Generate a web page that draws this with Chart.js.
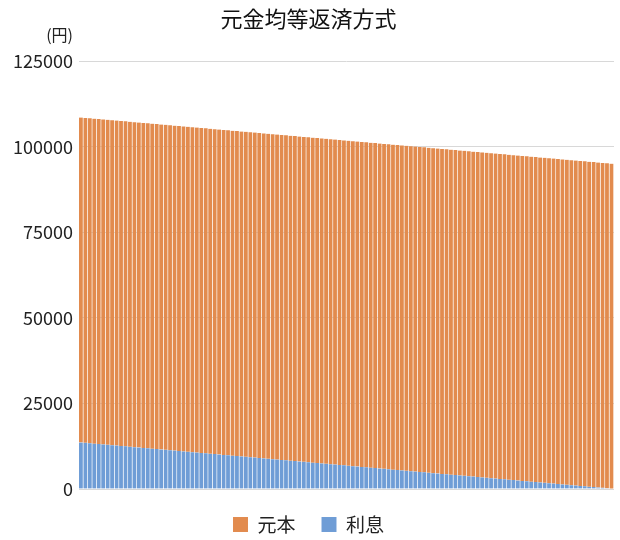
<!DOCTYPE html>
<html>
<head>
<meta charset="utf-8">
<script src="https://cdn.jsdelivr.net/npm/chart.js@4"></script>
<style>
  html, body { margin: 0; padding: 0; background: #fff; }
  #wrap { width: 620px; height: 540px; }
</style>
</head>
<body>
<div id="wrap"><canvas id="chart" width="620" height="540"></canvas></div>
<script>
// 元金均等返済: monthly payments
const TITLE = "元金均等返済方式";
const UNIT = "(円)";
const SERIES_NAMES = ["利息", "元本"];
const Y_TICKS = [0, 25000, 50000, 75000, 100000, 125000];

const interest = [
    13600, 13490, 13370, 13260, 13150, 13030, 12920, 12810, 12690, 12580,
    12470, 12350, 12240, 12130, 12010, 11900, 11790, 11670, 11560, 11450,
    11330, 11220, 11110, 10990, 10880, 10770, 10650, 10540, 10430, 10310,
    10200, 10090, 9970, 9860, 9740, 9630, 9520, 9400, 9290, 9180,
    9060, 8950, 8840, 8720, 8610, 8500, 8380, 8270, 8160, 8040,
    7930, 7820, 7700, 7590, 7480, 7360, 7250, 7140, 7020, 6910,
    6800, 6680, 6570, 6460, 6340, 6230, 6120, 6000, 5890, 5780,
    5660, 5550, 5440, 5320, 5210, 5100, 4980, 4870, 4760, 4640,
    4530, 4420, 4300, 4190, 4070, 3960, 3850, 3730, 3620, 3510,
    3390, 3280, 3170, 3050, 2940, 2830, 2710, 2600, 2490, 2370,
    2260, 2150, 2030, 1920, 1810, 1690, 1580, 1470, 1350, 1240,
    1130, 1010, 900, 790, 670, 560, 450, 330, 220, 110
];

const principal = [
    95000, 95000, 95000, 95000, 95000, 95000, 95000, 95000, 95000, 95000,
    95000, 95000, 95000, 95000, 95000, 95000, 95000, 95000, 95000, 95000,
    95000, 95000, 95000, 95000, 95000, 95000, 95000, 95000, 95000, 95000,
    95000, 95000, 95000, 95000, 95000, 95000, 95000, 95000, 95000, 95000,
    95000, 95000, 95000, 95000, 95000, 95000, 95000, 95000, 95000, 95000,
    95000, 95000, 95000, 95000, 95000, 95000, 95000, 95000, 95000, 95000,
    95000, 95000, 95000, 95000, 95000, 95000, 95000, 95000, 95000, 95000,
    95000, 95000, 95000, 95000, 95000, 95000, 95000, 95000, 95000, 95000,
    95000, 95000, 95000, 95000, 95000, 95000, 95000, 95000, 95000, 95000,
    95000, 95000, 95000, 95000, 95000, 95000, 95000, 95000, 95000, 95000,
    95000, 95000, 95000, 95000, 95000, 95000, 95000, 95000, 95000, 95000,
    95000, 95000, 95000, 95000, 95000, 95000, 95000, 95000, 95000, 95000
];

// month numbers 1..120 as categories
const months = interest.map((v, i) => String(i + 1));

const FONT = '"Noto Sans CJK JP", "Noto Sans", sans-serif';
const ORANGE = "rgb(226,139,78)";
const BLUE = "rgb(111,157,214)";
const STRIPE = "rgba(255,255,255,0.12)";

// draws the "(円)" unit label above the y axis
const unitLabel = {
    id: "unitLabel",
    afterDraw(chart) {
        let ctx = chart.ctx;
        let area = chart.chartArea;
        ctx.save();
        ctx.font = "16px " + FONT;
        ctx.fillStyle = "#222";
        ctx.textAlign = "right";
        ctx.textBaseline = "middle";
        ctx.fillText(UNIT, area.left - 6, area.top - 26);
        ctx.restore();
    }
};

new Chart(document.getElementById("chart"), {
    type: "bar",
    data: {
        labels: months,
        datasets: [
            {
                label: SERIES_NAMES[0],
                data: interest,
                backgroundColor: BLUE,
                borderColor: STRIPE,
                borderWidth: { left: 0, right: 1, top: 0, bottom: 0 },
                barPercentage: 1,
                categoryPercentage: 1
            },
            {
                label: SERIES_NAMES[1],
                data: principal,
                backgroundColor: ORANGE,
                borderColor: STRIPE,
                borderWidth: { left: 0, right: 1, top: 0, bottom: 0 },
                barPercentage: 1,
                categoryPercentage: 1
            }
        ]
    },
    options: {
        responsive: false,
        animation: false,
        layout: { padding: { left: 3, right: 6, top: 0, bottom: -4 } },
        scales: {
            x: {
                stacked: true,
                display: false
            },
            y: {
                stacked: true,
                min: 0,
                max: 125000,
                afterBuildTicks(scale) {
                    scale.ticks = Y_TICKS.map(v => ({ value: v }));
                },
                afterFit(scale) {
                    scale.width = 76;
                },
                border: { display: false },
                grid: { color: "#d8d8d8", drawTicks: false, lineWidth: 1 },
                ticks: {
                    padding: 6,
                    color: "#222",
                    font: { family: FONT, size: 18 },
                    callback: v => String(v)
                }
            }
        },
        plugins: {
            title: {
                display: true,
                text: TITLE,
                color: "#111",
                font: { family: FONT, size: 22, weight: "normal" },
                padding: { top: 5, bottom: 30 }
            },
            legend: {
                position: "bottom",
                reverse: true,
                labels: {
                    color: "#222",
                    font: { family: FONT, size: 19 },
                    boxWidth: 15,
                    boxHeight: 15,
                    padding: 26
                }
            },
            tooltip: { enabled: false }
        }
    },
    plugins: [unitLabel]
});
</script>
</body>
</html>
